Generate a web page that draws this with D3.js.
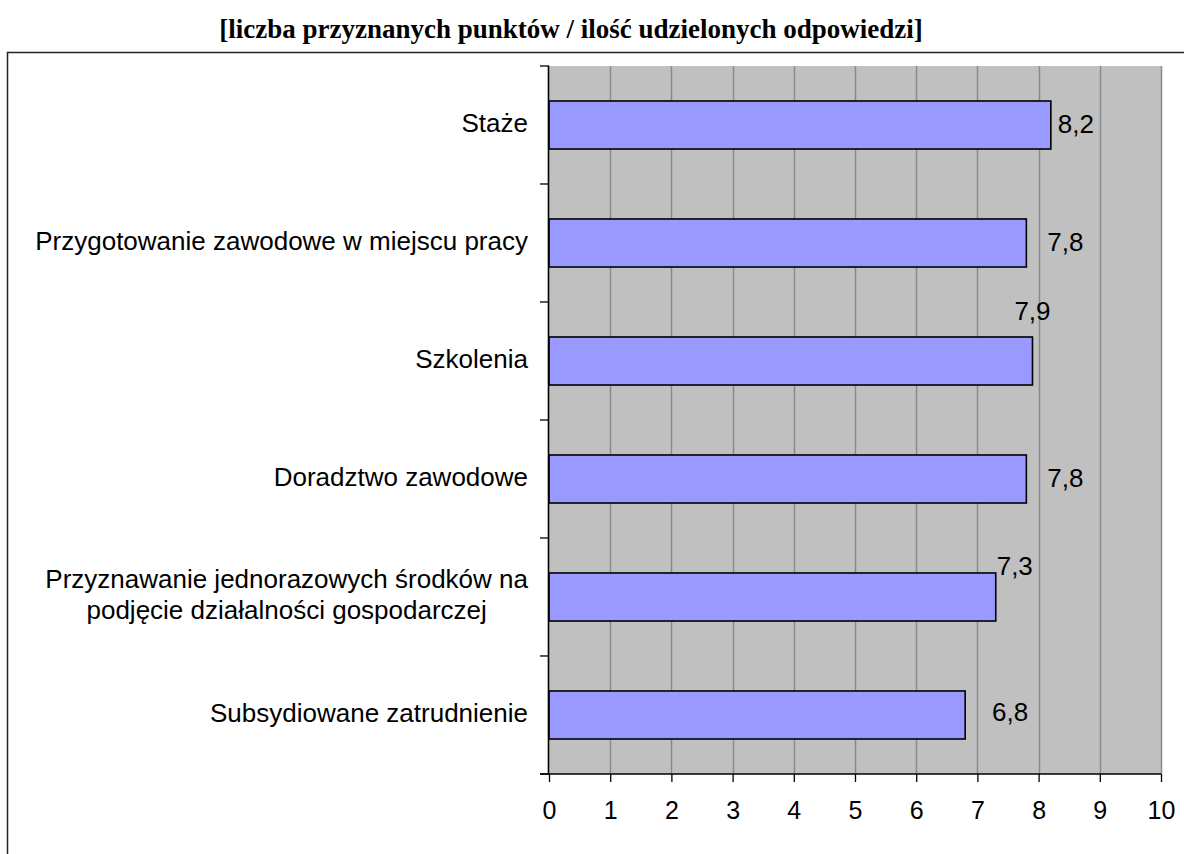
<!DOCTYPE html>
<html>
<head>
<meta charset="utf-8">
<script src="https://cdn.jsdelivr.net/npm/d3@7"></script>
<style>
  html, body { margin: 0; padding: 0; background: #fff; }
  svg { display: block; }
</style>
</head>
<body>
<svg id="chart" width="1184" height="854"></svg>
<script>
// Service categories, top to bottom
const categories = [
  "Staże",
  "Przygotowanie zawodowe w miejscu pracy",
  "Szkolenia",
  "Doradztwo zawodowe",
  "Przyznawanie jednorazowych środków na|podjęcie działalności gospodarczej",
  "Subsydiowane zatrudnienie"
];
// Average score per category
const scores = [8.2, 7.8, 7.9, 7.8, 7.3, 6.8];
// Value axis tick labels
const xTicks = [0, 1, 2, 3, 4, 5, 6, 7, 8, 9, 10];
const title = "[liczba przyznanych punktów / ilość udzielonych odpowiedzi]";

// Placement of each value label relative to the bar end / bar centre
const labelNudge = [
  { dx: 25, dy: 8 },
  { dx: 39, dy: 8 },
  { dx: 0, dy: -41 },
  { dx: 39, dy: 8 },
  { dx: 19, dy: -22 },
  { dx: 45, dy: 6 }
];

const svg = d3.select("#chart");
const plot = { left: 549, right: 1161, top: 66, bottom: 774 };

const x = d3.scaleLinear().domain([0, 10]).range([plot.left, plot.right]);
const y = d3.scaleBand()
  .domain(categories)
  .range([plot.top, plot.bottom])
  .paddingInner(0.593)
  .paddingOuter(0.2966);

const fmt = v => d3.format(".1f")(v).replace(".", ",");
const sans = "'Liberation Sans', Arial, sans-serif";

// Outer chart frame
svg.append("rect")
  .attr("x", 7.5).attr("y", 52.5)
  .attr("width", 1400).attr("height", 1000)
  .attr("fill", "none")
  .attr("stroke", "#222").attr("stroke-width", 1.5);

// Title
svg.append("text")
  .attr("x", 571).attr("y", 38)
  .attr("text-anchor", "middle")
  .attr("font-family", "'Liberation Serif', 'Times New Roman', serif")
  .attr("font-weight", "bold")
  .attr("font-size", 27)
  .attr("fill", "#000")
  .text(title);

// Plot background
svg.append("rect")
  .attr("x", plot.left).attr("y", plot.top)
  .attr("width", plot.right - plot.left).attr("height", plot.bottom - plot.top)
  .attr("fill", "#c0c0c0");

// Vertical gridlines
svg.append("g")
  .selectAll("line")
  .data(xTicks.filter(d => d > 0))
  .join("line")
  .attr("x1", d => Math.round(x(d)) + 0.5).attr("x2", d => Math.round(x(d)) + 0.5)
  .attr("y1", plot.top).attr("y2", plot.bottom)
  .attr("stroke", "#8a8a8a").attr("stroke-width", 1.5);

// Bars
svg.append("g")
  .selectAll("rect")
  .data(categories)
  .join("rect")
  .attr("x", x(0))
  .attr("y", d => y(d))
  .attr("width", (d, i) => x(scores[i]) - x(0))
  .attr("height", y.bandwidth())
  .attr("fill", "#9999ff")
  .attr("stroke", "#000").attr("stroke-width", 1.6);

// Value labels
svg.append("g")
  .selectAll("text")
  .data(categories)
  .join("text")
  .attr("x", (d, i) => x(scores[i]) + labelNudge[i].dx)
  .attr("y", (d, i) => y(d) + y.bandwidth() / 2 + labelNudge[i].dy)
  .attr("text-anchor", "middle")
  .attr("font-family", sans)
  .attr("font-size", 26)
  .attr("fill", "#000")
  .text((d, i) => fmt(scores[i]));

// Category axis: line with ticks on category boundaries
const yAxisG = svg.append("g");
yAxisG.append("line")
  .attr("x1", plot.left - 0.5).attr("x2", plot.left - 0.5)
  .attr("y1", plot.top).attr("y2", plot.bottom)
  .attr("stroke", "#000").attr("stroke-width", 1.6);
const boundaries = d3.range(categories.length + 1).map(i => plot.top + i * y.step());
yAxisG.selectAll("line.tick")
  .data(boundaries)
  .join("line")
  .attr("class", "tick")
  .attr("x1", plot.left - 9).attr("x2", plot.left)
  .attr("y1", d => d).attr("y2", d => d)
  .attr("stroke", "#000").attr("stroke-width", 1.3);

// Category labels; wrapped labels are centred on their widest line
const labelRight = plot.left - 21;
yAxisG.selectAll("text")
  .data(categories)
  .join("text")
  .attr("font-family", sans)
  .attr("font-size", 26)
  .attr("fill", "#000")
  .each(function(d) {
    const lines = d.split("|");
    const cy = y(d) + y.bandwidth() / 2;
    const lh = 31;
    const first = cy + 7 - (lines.length - 1) * lh / 2;
    const sel = d3.select(this);
    const spans = sel.selectAll("tspan")
      .data(lines)
      .join("tspan")
      .attr("y", (l, k) => first + k * lh)
      .text(l => l);
    if (lines.length === 1) {
      sel.attr("text-anchor", "end");
      spans.attr("x", labelRight);
    } else {
      let maxW = 0;
      spans.each(function() { maxW = Math.max(maxW, this.getComputedTextLength()); });
      sel.attr("text-anchor", "middle");
      spans.attr("x", labelRight - maxW / 2);
    }
  });

// Value axis
const xAxis = d3.axisBottom(x)
  .tickValues(xTicks)
  .tickFormat(d => String(d))
  .tickSizeInner(8)
  .tickSizeOuter(0)
  .tickPadding(19);
const xAxisG = svg.append("g")
  .attr("transform", `translate(0,${plot.bottom})`)
  .call(xAxis);
xAxisG.select(".domain").remove();
xAxisG.append("line")
  .attr("x1", plot.left - 9).attr("x2", plot.right)
  .attr("y1", 0).attr("y2", 0)
  .attr("stroke", "#000").attr("stroke-width", 1.6);
xAxisG.selectAll(".tick line").attr("stroke", "#000").attr("stroke-width", 1.3);
xAxisG.selectAll(".tick text")
  .attr("font-family", sans)
  .attr("font-size", 25)
  .attr("fill", "#000");
</script>
</body>
</html>
